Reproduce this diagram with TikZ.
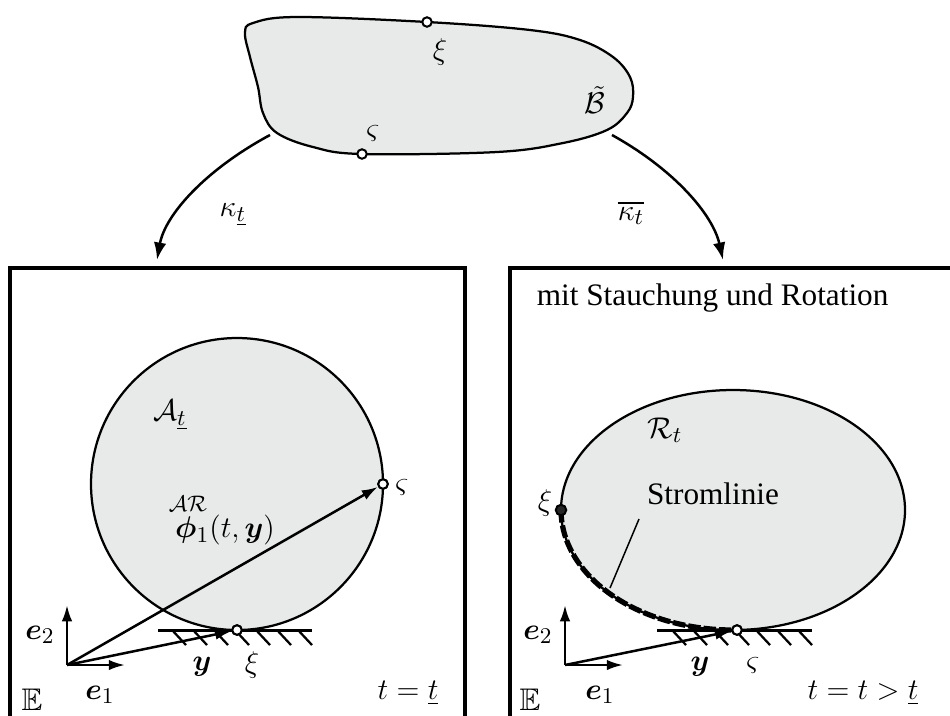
\documentclass[tikz,border=0pt]{standalone}
\usepackage{amsmath,amssymb,bm}
\usepackage[no-math]{fontspec}
\setmainfont{Liberation Serif}
\usetikzlibrary{arrows.meta, positioning, calc}
\definecolor{bodygray}{HTML}{E8EAEA}

\begin{document}
\begin{tikzpicture}[x=0.4pt, y=-0.4pt, font=\fontsize{12.5}{15}\selectfont,
  outl/.style={line width=0.9pt},
  frame/.style={line width=1.3pt},
  vec/.style={line width=1pt, -{Latex[length=6.5pt,width=4.2pt]}},
  maparrow/.style={line width=1pt, -{Latex[length=7pt,width=5pt]}},
  opendot/.style={circle, draw, fill=white, line width=0.8pt, inner sep=0pt, minimum size=3.8pt},
  fulldot/.style={circle, draw, fill=black!85, line width=0.8pt, inner sep=0pt, minimum size=4.2pt},
  hatch/.style={line width=0.9pt}]
\clip (0,0) rectangle (950,715);

% reference body
\draw[outl, fill=bodygray] plot[smooth cycle, tension=0.6] coordinates {
  (245,33) (253,23) (297,17) (427,22) (530,30) (580,40) (613,57) (630,77)
  (633,97) (627,113) (607,130) (563,143) (497,152) (362,154) (313,147)
  (277,133) (263,113) (258,87) (250,57)};
\node[opendot] (xiB) at (427,22) {};
\node[opendot] (vsB) at (362,154) {};
\node (xiBl) at (440,52) {$\xi$};
\node (vsBl) at (373,133) {$\varsigma$};
\node[inner sep=1pt] (Bl) at (595,100) {$\tilde{\mathcal{B}}$};

% mappings
\coordinate (kapL0) at (270,135);
\coordinate (kapL1) at (157,260);
\coordinate (kapR0) at (612,135);
\coordinate (kapR1) at (723,260);
\draw[maparrow] (kapL0) .. controls (205,170) and (165,215) .. (kapL1);
\draw[maparrow] (kapR0) .. controls (675,170) and (713,215) .. (kapR1);
\node (kapLl) at (233,215) {$\kappa_{\underline{t}}$};
\node (kapRl) at (631,213) {$\overline{\kappa_t}$};

% frames
\draw[frame] (10,730) -- (10,268) -- (465,268) -- (465,730);
\draw[frame] (510,730) -- (510,268) -- (960,268);

% left configuration
\draw[outl, fill=bodygray] (237,484) circle[radius=146];
\draw[line width=1.2pt] (158,630) -- (312,630);
\foreach \x in {172,193,...,298}
  \draw[hatch] (\x,630) -- ++(14,15);
\coordinate (oL) at (67,665);
\coordinate (e1L) at (125,665);
\coordinate (e2L) at (67,605);
\node[opendot] (xiL) at (237,630) {};
\node[opendot] (vsL) at (383,484) {};
\draw[vec] (oL) -- (e1L);
\draw[vec] (oL) -- (e2L);
\draw[vec] (oL) -- (xiL);
\draw[vec] (oL) -- (vsL);
\node[opendot] at (xiL) {};
\node[opendot] at (vsL) {};
\node (Al) at (170,415) {$\mathcal{A}_{\underline{t}}$};
\node (arl) at (188,504) {$\scriptstyle\mathcal{AR}$};
\node (phil) at (225,530) {$\bm{\phi}_1(t,\bm{y})$};
\node (vsLl) at (402,487) {$\varsigma$};
\node (xiLl) at (252,665) {$\xi$};
\node (yL) at (202,667) {$\bm{y}$};
\node (e1Ll) at (100,695) {$\bm{e}_1$};
\node (e2Ll) at (40,635) {$\bm{e}_2$};
\node (EL) at (32,700) {$\mathbb{E}$};
\node (tL) at (408,693) {$t=\underline{t}$};

% right configuration
\node[anchor=west] (title) at (528,298) {mit Stauchung und Rotation};
\draw[outl, fill=bodygray] (733,510) ellipse[x radius=172, y radius=120];
\draw[line width=2.1pt, dash pattern=on 5pt off 1.2pt]
  plot[domain=180:90, samples=40] ({733+172*cos(\x)},{510+120*sin(\x)});
\draw[line width=1.2pt] (657,630) -- (812,630);
\foreach \x in {672,693,...,798}
  \draw[hatch] (\x,630) -- ++(14,15);
\coordinate (oR) at (565,665);
\coordinate (e1R) at (623,665);
\coordinate (e2R) at (565,605);
\node[opendot] (vsR) at (737,630) {};
\node[fulldot] (xiR) at (561,510) {};
\draw[vec] (oR) -- (e1R);
\draw[vec] (oR) -- (e2R);
\draw[vec] (oR) -- (vsR);
\node[opendot] at (vsR) {};
\node (Rl) at (665,430) {$\mathcal{R}_t$};
\node (sl) at (713,494) {Stromlinie};
\coordinate (slA) at (639,519);
\coordinate (slB) at (610,588);
\draw[line width=0.6pt] (slA) -- (slB);
\node (xiRl) at (545,503) {$\xi$};
\node (vsRl) at (753,665) {$\varsigma$};
\node (yR) at (700,667) {$\bm{y}$};
\node (e1Rl) at (600,695) {$\bm{e}_1$};
\node (e2Rl) at (538,635) {$\bm{e}_2$};
\node (ER) at (530,700) {$\mathbb{E}$};
\node (tR) at (863,693) {$t=t>\underline{t}$};
\end{tikzpicture}
\end{document}
